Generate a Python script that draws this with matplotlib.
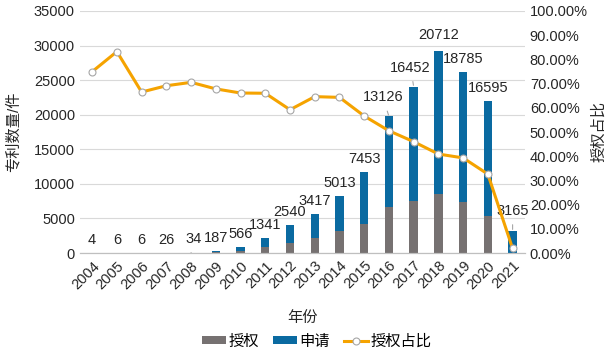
# 专利数量与授权占比图
import numpy as np
import matplotlib.pyplot as plt
from matplotlib.ticker import PercentFormatter

plt.rcParams['font.family'] = ['Liberation Sans', 'Noto Sans CJK SC']

# 数据
years = ['2004', '2005', '2006', '2007', '2008', '2009', '2010', '2011', '2012',
         '2013', '2014', '2015', '2016', '2017', '2018', '2019', '2020', '2021']
shenqing = [4, 6, 6, 26, 34, 187, 566, 1341, 2540,
            3417, 5013, 7453, 13126, 16452, 20712, 18785, 16595, 3165]
shouquan = [3, 5, 4, 18, 24, 127, 374, 885, 1504,
            2207, 3223, 4218, 6630, 7600, 8500, 7380, 5400, 60]
zhanbi = [74.9, 83.2, 66.5, 69.1, 70.5, 67.8, 66.1, 66.0, 59.2,
          64.6, 64.3, 56.6, 50.5, 46.0, 40.9, 39.3, 32.6, 1.9]

grey = '#767171'
blue = '#0A6AA1'
orange = '#F5A300'

fig = plt.figure(figsize=(6.09, 3.52), dpi=100)
ax = fig.add_axes([0.131, 0.281, 0.731, 0.688])
ax2 = ax.twinx()

x = np.arange(len(years))
w = 0.34
ax.bar(x, shouquan, w, color=grey, label='授权', zorder=2)
ax.bar(x, shenqing, w, bottom=shouquan, color=blue, label='申请', zorder=2)

ax2.plot(x, zhanbi, color=orange, lw=2.2, marker='o', ms=5,
         mfc='white', mec='#A6A6A6', mew=0.8, label='授权占比', zorder=3)

# 数据标签
offsets = {4: (3, 14), 12: (-6, 19), 13: (-3, 19), 14: (0, 16), 17: (0, 20)}
leader = [4, 12, 13, 17]
for i in range(len(years)):
    top = shouquan[i] + shenqing[i]
    dx, dy = offsets.get(i, (0, 13))
    if i in leader:
        ax.annotate(str(shenqing[i]), (x[i], top), xytext=(dx, dy),
                    textcoords='offset pixels', ha='center', va='center',
                    fontsize=10.5, color='#262626', zorder=5,
                    arrowprops=dict(arrowstyle='-', color='#A6A6A6', lw=0.8,
                                    shrinkA=3, shrinkB=1))
    else:
        ax.annotate(str(shenqing[i]), (x[i], top), xytext=(dx, dy),
                    textcoords='offset pixels', ha='center', va='center',
                    fontsize=10.5, color='#262626', zorder=5)

# 坐标轴
ax.set_xlim(-0.5, len(years) - 0.5)
ax.set_ylim(0, 35000)
ax.set_yticks(np.arange(0, 35001, 5000))
ax2.set_ylim(0, 100)
ax2.set_yticks(np.arange(0, 101, 10))
ax2.yaxis.set_major_formatter(PercentFormatter(decimals=2))

ax.set_xticks(x)
ax.set_xticklabels(years, rotation=45, ha='right', rotation_mode='anchor')
ax.grid(axis='y', color='#D9D9D9', lw=0.8, zorder=0)
ax.set_axisbelow(True)

for a in (ax, ax2):
    for s in ('top', 'left', 'right'):
        a.spines[s].set_visible(False)
    a.spines['bottom'].set_color('#BFBFBF')
    a.tick_params(length=0, labelsize=10.5, colors='#262626')
ax.tick_params(axis='x', pad=4)

ax.set_xlabel('年份', fontsize=11, color='#262626', labelpad=14)
ax.set_ylabel('专利数量/件', fontsize=11, color='#262626')
ax.yaxis.set_label_coords(-0.133, 0.5)
ax2.set_ylabel('授权占比', fontsize=11, color='#262626', labelpad=3)

# 图例
h1, l1 = ax.get_legend_handles_labels()
h2, l2 = ax2.get_legend_handles_labels()
fig.legend(h1 + h2, l1 + l2, loc='center', bbox_to_anchor=(0.52, 0.03),
           ncol=3, frameon=False, fontsize=11, handlelength=1.6,
           handleheight=0.4, handletextpad=0.15, columnspacing=0.9)

plt.savefig('out.png', dpi=100)
